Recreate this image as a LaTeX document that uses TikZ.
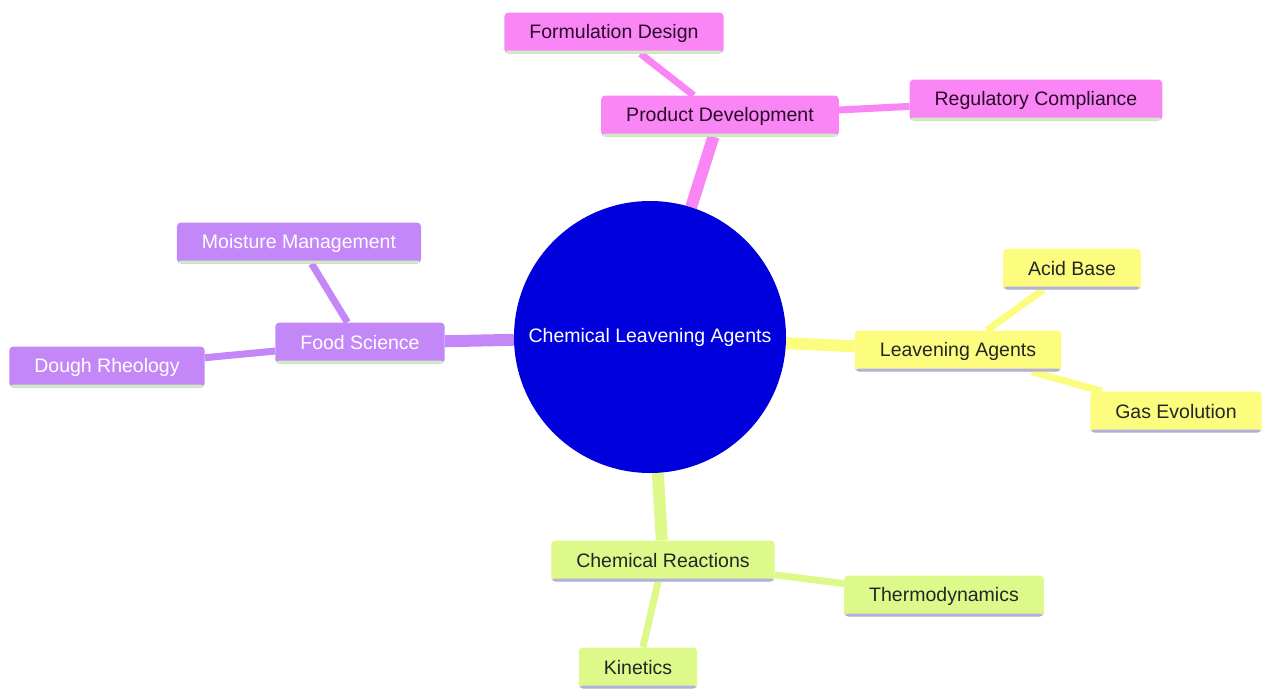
\documentclass[tikz,border=0pt]{standalone}
\usepackage{fontspec}
\setmainfont{Liberation Sans}
\usetikzlibrary{backgrounds}

\definecolor{rootblue}{HTML}{0000DD}
\definecolor{pinkbox}{HTML}{F986F4}
\definecolor{purplebox}{HTML}{C387F7}
\definecolor{yellowbox}{HTML}{FCFC7E}
\definecolor{greenbox}{HTML}{DCF98A}
\definecolor{greenline}{HTML}{CDEFC0}
\definecolor{lilacline}{HTML}{B3AEE0}
\definecolor{darktext}{HTML}{2A0A2A}

\begin{document}
\begin{tikzpicture}[x=1pt,y=-1pt,
  every node/.style={font=\fontsize{19.5}{23}\selectfont},
  root node/.style={circle,fill=rootblue,text=white,minimum size=272pt,inner sep=0pt},
  topic node/.style n args={3}{rectangle,rounded corners=4pt,fill=#1,text=#2,
    minimum height=41pt,inner xsep=25pt,
    path picture={\fill[#3] ([yshift=3pt]path picture bounding box.south west)
      rectangle (path picture bounding box.south east);}},
  pink node/.style={topic node={pinkbox}{darktext}{greenline}},
  purple node/.style={topic node={purplebox}{white}{greenline}},
  yellow node/.style={topic node={yellowbox}{black!85}{lilacline}},
  green node/.style={topic node={greenbox}{black!85}{lilacline}}]

  \useasboundingbox (0,0) rectangle (1262,689);

  \node[root node] (root) at (650,337) {Chemical Leavening Agents};

  \node[pink node] (prod) at (720,116) {Product Development};
  \node[pink node] (form) at (614,33) {Formulation Design};
  \node[pink node] (regu) at (1036,100) {Regulatory Compliance};

  \node[purple node] (food) at (360,343) {Food Science};
  \node[purple node] (mois) at (299,243) {Moisture Management};
  \node[purple node] (dough) at (107,367) {Dough Rheology};

  \node[yellow node] (leav) at (958,351) {Leavening Agents};
  \node[yellow node] (acid) at (1072,269) {Acid Base};
  \node[yellow node] (gas) at (1176,412) {Gas Evolution};

  \node[green node] (chem) at (663,561) {Chemical Reactions};
  \node[green node] (thermo) at (944,596) {Thermodynamics};
  \node[green node] (kin) at (638,668) {Kinetics};

  \begin{scope}[on background layer]
    % thick edges from the centre, thinner ones to the leaves
    \path[line width=12pt]
      (root) edge[pinkbox] (prod)
             edge[purplebox] (food)
             edge[yellowbox] (leav)
             edge[greenbox] (chem);
    \path[line width=7pt]
      (prod) edge[pinkbox] (form)
             edge[pinkbox] (regu)
      (food) edge[purplebox] (mois)
             edge[purplebox] (dough)
      (leav) edge[yellowbox] (acid)
             edge[yellowbox] (gas)
      (chem) edge[greenbox] (thermo)
             edge[greenbox] (kin);
  \end{scope}
\end{tikzpicture}
\end{document}
